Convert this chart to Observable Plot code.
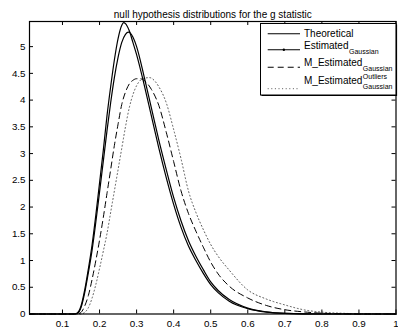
<!DOCTYPE html>
<html><head><meta charset="utf-8">
<script src="https://cdn.jsdelivr.net/npm/d3@7"></script>
<script src="https://cdn.jsdelivr.net/npm/@observablehq/plot@0.6"></script>
<style>html,body{margin:0;padding:0;background:#fff} svg{display:block}</style>
</head><body><div id="chart"></div>
<script>
const title = "null hypothesis distributions for the g statistic";
const xTicks = [0.1,0.2,0.3,0.4,0.5,0.6,0.7,0.8,0.9,1];
const yTicks = [0,0.5,1,1.5,2,2.5,3,3.5,4,4.5,5];

// Theoretical
const theoX = [0.011,0.13,0.14,0.15,0.16,0.17,0.18,0.19,0.2,0.21,0.22,0.23,0.24,0.25,0.26,0.265,0.27,0.28,0.29,0.3,0.32,0.34,0.36,0.38,0.4,0.42,0.44,0.46,0.48,0.5,0.52,0.55,0.6,0.65,0.7,0.8,1];
const theoY = [0,0,0.02,0.15,0.45,0.85,1.3,1.85,2.45,3.05,3.7,4.25,4.75,5.15,5.4,5.45,5.43,5.3,5.08,4.85,4.3,3.7,3.1,2.55,2.05,1.62,1.27,1.0,0.76,0.55,0.4,0.24,0.1,0.035,0.01,0,0];
// Estimated (Gaussian)
const estX = [0.011,0.13,0.14,0.15,0.16,0.17,0.18,0.19,0.2,0.21,0.22,0.23,0.24,0.25,0.26,0.27,0.278,0.29,0.3,0.32,0.34,0.36,0.38,0.4,0.42,0.44,0.46,0.48,0.5,0.52,0.55,0.6,0.65,0.7,0.8,1];
const estY = [0,0,0.01,0.12,0.4,0.78,1.2,1.72,2.28,2.85,3.42,3.95,4.42,4.8,5.08,5.23,5.27,5.18,5.0,4.45,3.85,3.25,2.7,2.18,1.74,1.37,1.08,0.83,0.6,0.44,0.27,0.11,0.04,0.012,0,0];
// M_Estimated (Gaussian)
const mX = [0.011,0.14,0.15,0.16,0.17,0.18,0.19,0.2,0.21,0.22,0.23,0.24,0.25,0.26,0.27,0.28,0.29,0.3,0.31,0.32,0.34,0.36,0.38,0.4,0.42,0.44,0.46,0.48,0.5,0.52,0.55,0.6,0.65,0.7,0.75,0.8,0.85,0.9,1];
const mY = [0,0,0.03,0.15,0.35,0.65,1.0,1.38,1.8,2.25,2.7,3.15,3.55,3.92,4.15,4.3,4.37,4.4,4.4,4.37,4.2,3.9,3.4,2.85,2.3,1.88,1.55,1.25,0.97,0.75,0.52,0.3,0.16,0.08,0.04,0.015,0.005,0,0];
// M_Estimated (Gaussian, outliers)
const oX = [0.011,0.15,0.16,0.17,0.18,0.19,0.2,0.21,0.22,0.23,0.24,0.25,0.26,0.27,0.28,0.29,0.3,0.31,0.32,0.335,0.35,0.36,0.38,0.4,0.42,0.44,0.46,0.48,0.5,0.52,0.55,0.6,0.65,0.7,0.75,0.8,0.85,0.9,1];
const oY = [0,0,0.03,0.12,0.3,0.55,0.85,1.17,1.5,1.9,2.3,2.7,3.1,3.5,3.85,4.1,4.27,4.37,4.41,4.42,4.35,4.25,3.95,3.45,2.9,2.3,1.9,1.58,1.3,1.08,0.82,0.45,0.28,0.17,0.08,0.035,0.015,0.005,0];

const zip = (xs, ys) => xs.map((x, i) => ({x, y: ys[i]}));
const theo = zip(theoX, theoY), est = zip(estX, estY), mest = zip(mX, mY), oest = zip(oX, oY);

const W = 398, H = 333, mL = 29, mR = 2.5, mT = 21, mB = 19.5;
const fH = H - mT - mB, fW = W - mL - mR;
const font = "'Liberation Sans', Arial, Helvetica, sans-serif";

const plot = Plot.plot({
  width: W, height: H,
  marginLeft: mL, marginRight: mR, marginTop: mT, marginBottom: mB,
  style: {fontFamily: font, fontSize: "9.8px", color: "black", background: "white"},
  x: {domain: [0.011, 1]},
  y: {domain: [0, 5.47]},
  marks: [
    Plot.line(oest, {x: "x", y: "y", stroke: "#444", strokeWidth: 0.9, strokeDasharray: "1,2.6", curve: "monotone-x"}),
    Plot.line(mest, {x: "x", y: "y", stroke: "black", strokeWidth: 1, strokeDasharray: "6,4", curve: "monotone-x"}),
    Plot.line(est, {x: "x", y: "y", stroke: "black", strokeWidth: 1.2, curve: "monotone-x"}),
    Plot.line(theo, {x: "x", y: "y", stroke: "black", strokeWidth: 1.2, curve: "monotone-x"}),
    Plot.tickX(xTicks, {x: d => d, insetTop: fH - 4, stroke: "black"}),
    Plot.tickX(xTicks, {x: d => d, insetBottom: fH - 4, stroke: "black"}),
    Plot.tickY(yTicks, {y: d => d, insetRight: fW - 4, stroke: "black"}),
    Plot.tickY(yTicks, {y: d => d, insetLeft: fW - 4, stroke: "black"}),
    Plot.axisX(xTicks, {tickSize: 0, tickPadding: 6, tickFormat: d => String(d), label: null}),
    Plot.axisY(yTicks, {tickSize: 0, tickPadding: 4, tickFormat: d => String(d), label: null}),
    Plot.frame({stroke: "black", strokeWidth: 1.2}),
    Plot.text([title], {frameAnchor: "top", dy: -10.5, fontSize: 10, text: d => d})
  ]
});
document.getElementById("chart").appendChild(plot);

// Legend (MATLAB style box)
const svg = d3.select(plot);
const g = svg.append("g").style("font-family", font).attr("fill", "black").attr("text-anchor", "start");
const bx0 = 260.5, by0 = 23.5, bx1 = 396, by1 = 95;
g.append("rect").attr("x", bx0).attr("y", by0).attr("width", bx1 - bx0).attr("height", by1 - by0)
  .attr("fill", "white").attr("stroke", "black").attr("stroke-width", 1);
g.append("path").attr("d", `M${bx0 + 1},${by1 + 0.5}H${bx1 + 0.5}V${by0 + 1}`)
  .attr("fill", "none").attr("stroke", "black").attr("stroke-width", 1.2);

const lx0 = 267.7, lx1 = 300, tx = 304;
const rows = [
  {ly: 33.7, dash: null, stroke: "black", main: "Theoretical", by: 36.8},
  {ly: 49.7, dash: null, stroke: "black", main: "Estimated", by: 48.8, sub: "Gaussian", marker: true},
  {ly: 67.3, dash: "6,4", stroke: "black", main: "M_Estimated", by: 66.2, sub: "Gaussian"},
  {ly: 88.7, dash: "1,2.6", stroke: "#444", main: "M_Estimated", by: 84, sub: "Gaussian", sup: "Outliers"}
];
rows.forEach(r => {
  const ln = g.append("line").attr("x1", lx0).attr("x2", lx1).attr("y1", r.ly).attr("y2", r.ly)
    .attr("stroke", r.stroke).attr("stroke-width", r.dash === "1,2.6" ? 0.9 : 1.1);
  if (r.dash) ln.attr("stroke-dasharray", r.dash);
  if (r.marker) g.append("circle").attr("cx", (lx0 + lx1) / 2).attr("cy", r.ly).attr("r", 1.2).attr("fill", "black");
  const t = g.append("text").attr("x", tx).attr("y", r.by).style("font-size", "10px").text(r.main);
  const w = t.node().getComputedTextLength();
  if (r.sub) g.append("text").attr("x", tx + w + 0.5).attr("y", r.sup ? r.by + 4.6 : r.by + 4.8).style("font-size", "7px").text(r.sub);
  if (r.sup) g.append("text").attr("x", tx + w + 0.5).attr("y", r.by - 4.8).style("font-size", "7px").text(r.sup);
});
</script>
</body></html>
